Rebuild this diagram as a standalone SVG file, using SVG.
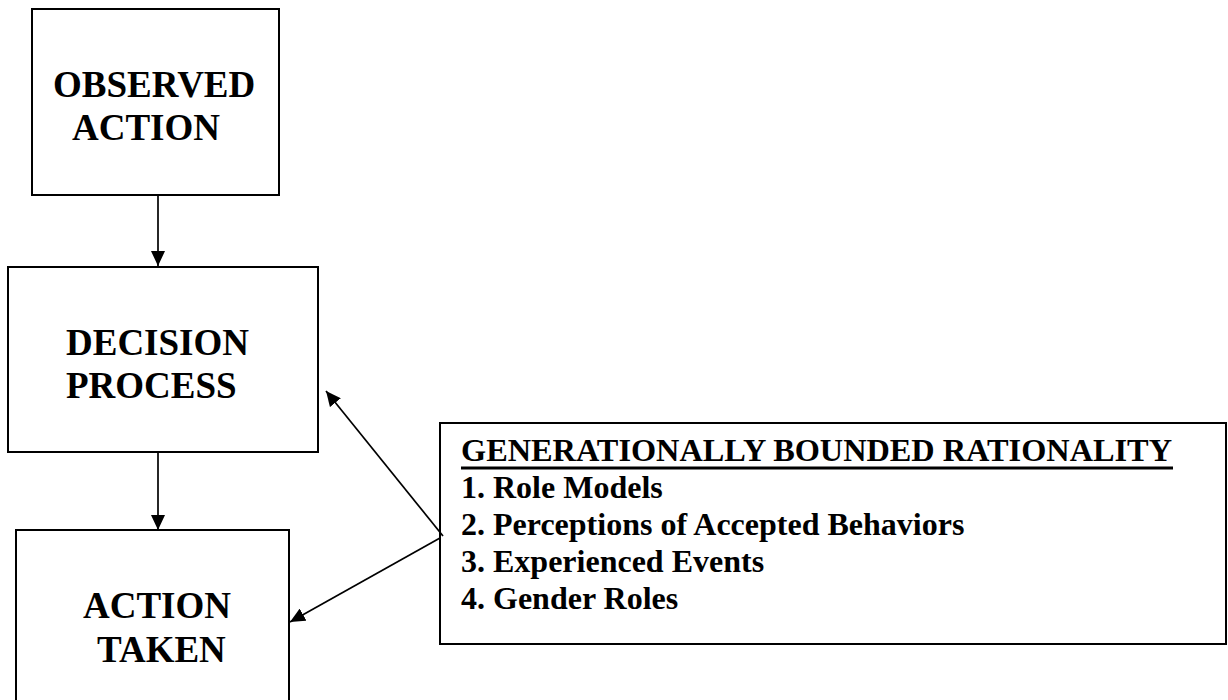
<svg xmlns="http://www.w3.org/2000/svg" width="1228" height="700" viewBox="0 0 1228 700">
<style>
.box{fill:#fff;stroke:#000;stroke-width:2}
.lbl{font-family:"Liberation Serif","Times New Roman",serif;font-weight:bold;font-size:37px;fill:#000}
.lst{font-family:"Liberation Serif","Times New Roman",serif;font-weight:bold;font-size:32px;fill:#000}
.con{stroke:#000;stroke-width:1.7;fill:none}
</style>
<defs>
<marker id="ah" markerUnits="userSpaceOnUse" markerWidth="16" markerHeight="14" refX="15" refY="7" orient="auto">
<path d="M0,0 L15,7 L0,14 Z" fill="#000"/>
</marker>
</defs>
<rect width="1228" height="700" fill="#fff"/>
<g id="observed-action">
<rect class="box" x="32" y="9" width="247" height="186"/>
<text class="lbl" x="53" y="97">OBSERVED</text>
<text class="lbl" x="72" y="140">ACTION</text>
</g>
<g id="decision-process">
<rect class="box" x="8" y="267" width="310" height="185"/>
<text class="lbl" x="66" y="355">DECISION</text>
<text class="lbl" x="66" y="398">PROCESS</text>
</g>
<g id="action-taken">
<rect class="box" x="16" y="530" width="273" height="175"/>
<text class="lbl" x="83" y="618">ACTION</text>
<text class="lbl" x="97" y="662">TAKEN</text>
</g>
<g id="gbr">
<rect class="box" x="440" y="423" width="786" height="221"/>
<text class="lst" x="461" y="461" textLength="711" lengthAdjust="spacingAndGlyphs">GENERATIONALLY BOUNDED RATIONALITY</text>
<rect x="461" y="466.5" width="712" height="3" fill="#000"/>
<text class="lst" x="461" y="498">1. Role Models</text>
<text class="lst" x="461" y="535">2. Perceptions of Accepted Behaviors</text>
<text class="lst" x="461" y="572">3. Experienced Events</text>
<text class="lst" x="461" y="609">4. Gender Roles</text>
</g>
<g id="connectors">
<line class="con" x1="158" y1="195" x2="158" y2="266" marker-end="url(#ah)"/>
<line class="con" x1="158" y1="452" x2="158" y2="530" marker-end="url(#ah)"/>
<line class="con" x1="443" y1="536" x2="326" y2="391" marker-end="url(#ah)"/>
<line class="con" x1="440" y1="538" x2="290" y2="622" marker-end="url(#ah)"/>
</g>
</svg>
